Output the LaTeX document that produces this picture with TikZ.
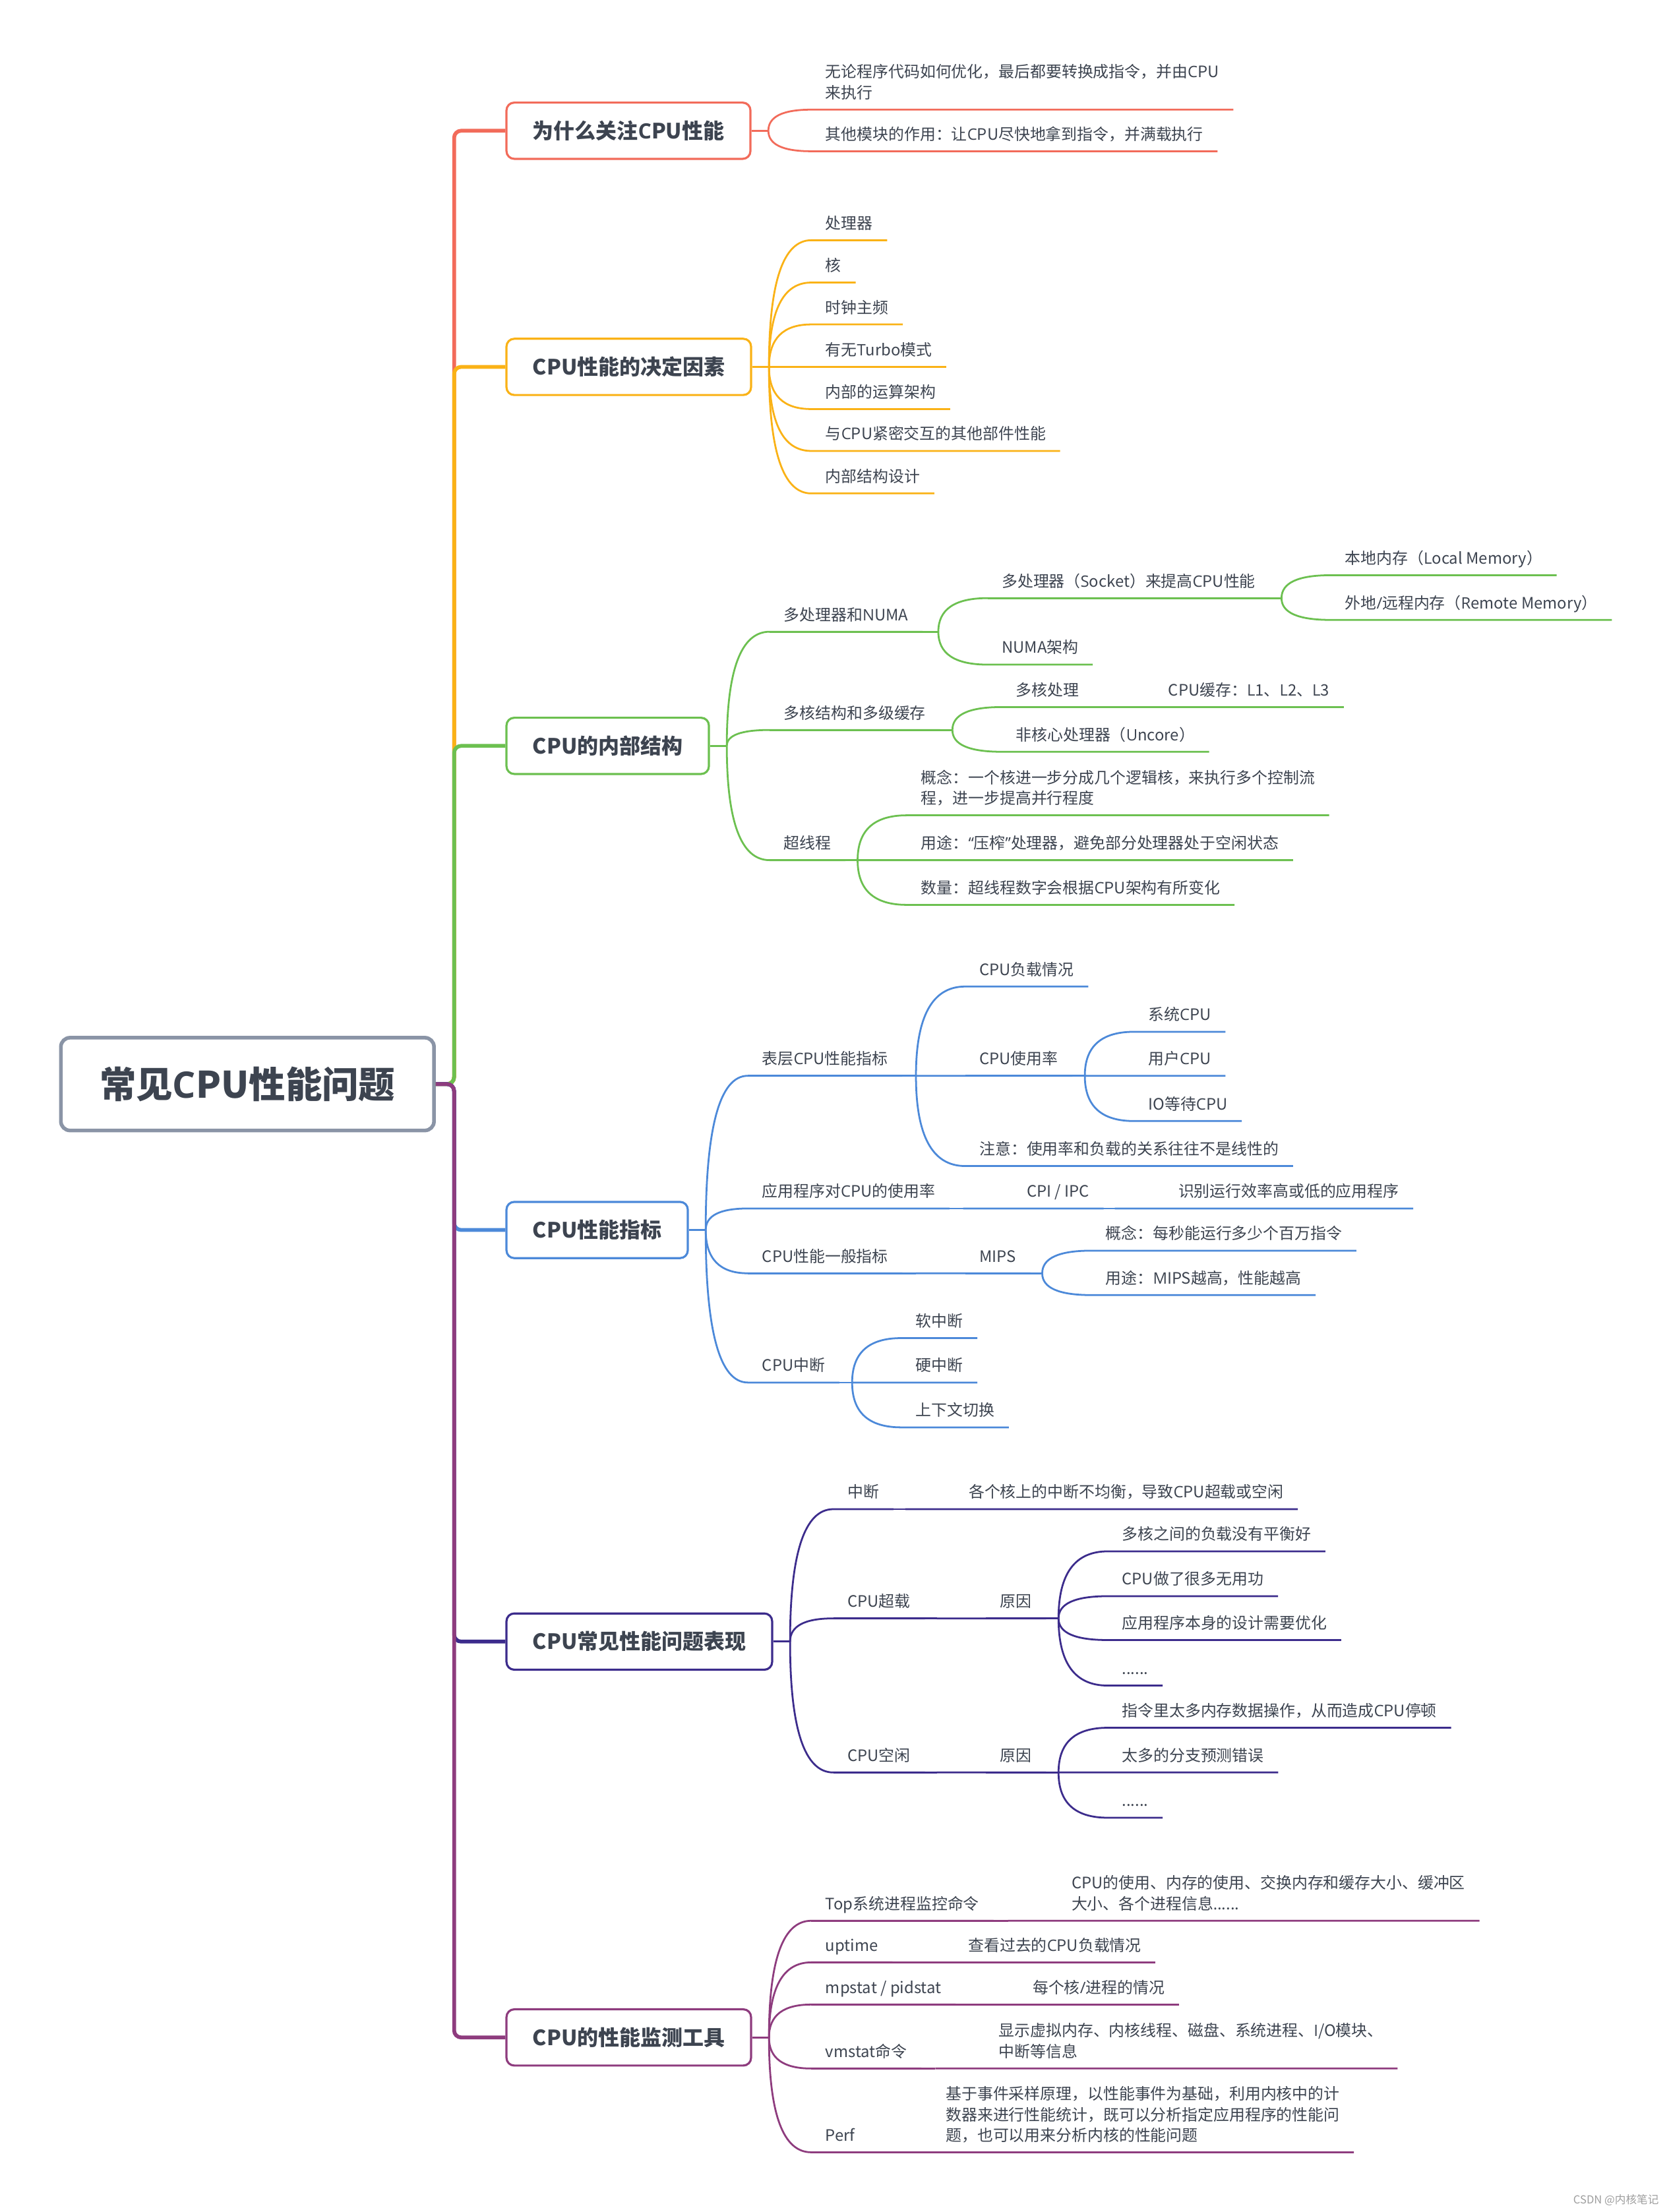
\documentclass[tikz,border=0pt]{standalone}
\usepackage{fontspec}
\setmainfont{Open Sans}
\newfontfamily\latinfont{Open Sans}
\newfontfamily\cjkfont{Noto Sans CJK SC}
\usetikzlibrary{positioning,calc}

\definecolor{ink}{RGB}{61,68,80}
\definecolor{rootgray}{RGB}{138,148,166}
\definecolor{cred}{RGB}{242,107,90}
\definecolor{corange}{RGB}{250,178,22}
\definecolor{cgreen}{RGB}{108,192,80}
\definecolor{cblue}{RGB}{76,137,217}
\definecolor{cpurple}{RGB}{60,44,140}
\definecolor{cplum}{RGB}{142,60,126}

% Latin letters in Open Sans, the rest in Noto Sans CJK
\newXeTeXintercharclass\latincls
\makeatletter
\def\setlatin#1#2{\count@=#1\relax
  \loop\XeTeXcharclass\count@=\latincls\relax
  \ifnum\count@<#2\relax\advance\count@\@ne\repeat}
\makeatother
\setlatin{`A}{`Z}\setlatin{`a}{`z}\setlatin{`0}{`9}
\XeTeXcharclass`/=\latincls
\XeTeXcharclass`@=\latincls
\XeTeXcharclass`.=\latincls
\XeTeXcharclass"201C=\latincls
\XeTeXcharclass"201D=\latincls
\XeTeXinterchartokenstate=1
\XeTeXinterchartoks 4095 \latincls = {\latinfont}
\XeTeXinterchartoks 0 \latincls = {\latinfont}
\XeTeXinterchartoks 1 \latincls = {\latinfont}
\XeTeXinterchartoks 2 \latincls = {\latinfont}
\XeTeXinterchartoks 3 \latincls = {\latinfont}
\XeTeXinterchartoks \latincls 0 = {\cjkfont}
\XeTeXinterchartoks \latincls 1 = {\cjkfont}
\XeTeXinterchartoks \latincls 2 = {\cjkfont}
\XeTeXinterchartoks \latincls 3 = {\cjkfont}
\XeTeXinterchartoks 4095 0 = {\cjkfont}
\XeTeXinterchartoks 4095 1 = {\cjkfont}
\XeTeXinterchartoks 4095 2 = {\cjkfont}
\XeTeXinterchartoks 4095 3 = {\cjkfont}

\begin{document}
\begin{tikzpicture}[x=1pt, y=-1pt,
    root/.style={draw=rootgray, line width=2.6pt, rounded corners=6.5pt, minimum width=265.4pt, minimum height=66pt, font=\fontsize{26}{30}\selectfont\bfseries, text=ink},
    topic/.style={draw=#1, line width=1.5pt, rounded corners=5.5pt, fill=white, anchor=west, inner xsep=18.6pt, minimum height=40pt, font=\fontsize{15}{18}\selectfont\bfseries, text=ink},
    leaf/.style={anchor=south west, inner xsep=10pt, inner ysep=3.4pt, align=left, font=\fontsize{11.2}{14.7}\selectfont, text=ink, execute at end node=\strut},
    trunk/.style={draw=#1, line width=2.7pt, rounded corners=5pt},
    bough/.style={draw=#1, line width=1.3pt},
    kid/.style={to path={.. controls ($(\tikztostart)!.667!(\tikztostart |- \tikztotarget)$) and ($(\tikztotarget)!.667!(\tikztostart |- \tikztotarget)$) .. (\tikztotarget)}}]
    \fill[white] (0,0) rectangle (1187.1,1573.6);

    % root and main topics
    \node[root] (cpu) at (176,771.2) {常见CPU性能问题};
    \coordinate (spine) at (323,771.2);
    \node[topic=cred] (why) at (359.5,93) {为什么关注CPU性能};
    \node[topic=corange] (fac) at (359.5,261) {CPU性能的决定因素};
    \node[topic=cgreen] (arch) at (359.5,530.6) {CPU的内部结构};
    \node[topic=cblue] (met) at (359.5,875) {CPU性能指标};
    \node[topic=cpurple] (sym) at (359.5,1167.8) {CPU常见性能问题表现};
    \node[topic=cplum] (tool) at (359.5,1449.4) {CPU的性能监测工具};
    \foreach \t/\c in {why/cred, fac/corange, arch/cgreen, met/cblue, sym/cpurple, tool/cplum}
        \draw[trunk=\c] (cpu.east) -- (spine) |- (\t.west);

    % why
    \node[leaf] (w1) at (577,78) {无论程序代码如何优化，最后都要转换成指令，并由CPU\\来执行};
    \node[leaf] (w2) at (577,107.6) {其他模块的作用：让CPU尽快地拿到指令，并满载执行};
    \coordinate (whyF) at ([xshift=12pt]why.east);
    \draw[bough=cred] (why.east) -- (whyF);
    \foreach \k in {w1,w2}
        \draw[bough=cred] (whyF) to[kid] (\k.south west) -- (\k.south east);

    % factors
    \node[leaf] (f1) at (577,170.9) {处理器};
    \node[leaf] (f2) at (577,201) {核};
    \node[leaf] (f3) at (577,230.8) {时钟主频};
    \node[leaf] (f4) at (577,261) {有无Turbo模式};
    \node[leaf] (f5) at (577,291) {内部的运算架构};
    \node[leaf] (f6) at (577,320.8) {与CPU紧密交互的其他部件性能};
    \node[leaf] (f7) at (577,351) {内部结构设计};
    \coordinate (facF) at ([xshift=12pt]fac.east);
    \draw[bough=corange] (fac.east) -- (facF);
    \foreach \k in {f1,f2,f3,f4,f5,f6,f7}
        \draw[bough=corange] (facF) to[kid] (\k.south west) -- (\k.south east);

    % inner structure
    \node[leaf] (a1) at (547.4,449.4) {多处理器和NUMA};
    \node[leaf] (a11) at (702.4,425.5) {多处理器（Socket）来提高CPU性能};
    \node[leaf] (a111) at (946.5,409.2) {本地内存（Local Memory）};
    \node[leaf] (a112) at (946.5,441) {外地/远程内存（Remote Memory）};
    \node[leaf] (a12) at (702.4,472.8) {NUMA架构};
    \node[leaf] (a2) at (547.4,519.3) {多核结构和多级缓存};
    \node[leaf] (a21) at (712.4,503) {多核处理};
    \node[leaf] (a211) at (820.9,503) {CPU缓存：L1、L2、L3};
    \node[leaf] (a22) at (712.4,534.8) {非核心处理器（Uncore）};
    \node[leaf] (a3) at (547.4,611.9) {超线程};
    \node[leaf] (a31) at (645,580) {概念：一个核进一步分成几个逻辑核，来执行多个控制流\\程，进一步提高并行程度};
    \node[leaf] (a32) at (645,611.9) {用途：“压榨”处理器，避免部分处理器处于空闲状态};
    \node[leaf] (a33) at (645,643.7) {数量：超线程数字会根据CPU架构有所变化};
    \coordinate (archF) at ([xshift=12pt]arch.east);
    \coordinate (a1F) at (667.4,449.4);
    \coordinate (a11F) at (911.5,425.5);
    \coordinate (a2F) at (677.4,519.3);
    \coordinate (a21F) at (785.9,503);
    \coordinate (a3F) at (610,611.9);
    \draw[bough=cgreen] (arch.east) -- (archF);
    \foreach \k/\f in {a1/a1F, a11/a11F, a2/a2F, a21/a21F, a3/a3F}
        \draw[bough=cgreen] (\k.south west) -- (\f);
    \foreach \p/\k in {archF/a1, archF/a2, archF/a3, a1F/a11, a1F/a12, a11F/a111, a11F/a112,
                       a2F/a21, a2F/a22, a21F/a211, a3F/a31, a3F/a32, a3F/a33}
        \draw[bough=cgreen] (\p) to[kid] (\k.south west) -- (\k.south east);

    % metrics
    \node[leaf] (m1) at (531.9,765.3) {表层CPU性能指标};
    \node[leaf] (m11) at (686.5,701.8) {CPU负载情况};
    \node[leaf] (m12) at (686.5,765.3) {CPU使用率};
    \node[leaf] (m121) at (806.6,734) {系统CPU};
    \node[leaf] (m122) at (806.6,765.3) {用户CPU};
    \node[leaf] (m123) at (806.6,797.5) {IO等待CPU};
    \node[leaf] (m13) at (686.5,829.5) {注意：使用率和负载的关系往往不是线性的};
    \node[leaf] (m2) at (531.9,859.7) {应用程序对CPU的使用率};
    \node[leaf] (m21) at (720.1,859.7) {CPI / IPC};
    \node[leaf] (m211) at (828,859.7) {识别运行效率高或低的应用程序};
    \node[leaf] (m3) at (531.9,905.8) {CPU性能一般指标};
    \node[leaf] (m31) at (686.5,905.8) {MIPS};
    \node[leaf] (m311) at (776.3,889.7) {概念：每秒能运行多少个百万指令};
    \node[leaf] (m312) at (776.3,921.3) {用途：MIPS越高，性能越高};
    \node[leaf] (m4) at (531.9,983.5) {CPU中断};
    \node[leaf] (m41) at (641.1,951.9) {软中断};
    \node[leaf] (m42) at (641.1,983.5) {硬中断};
    \node[leaf] (m43) at (641.1,1015.4) {上下文切换};
    \coordinate (metF) at ([xshift=12pt]met.east);
    \coordinate (m1F) at (651.5,765.3);
    \coordinate (m12F) at (771.6,765.3);
    \coordinate (m2F) at (685.1,859.7);
    \coordinate (m21F) at (793,859.7);
    \coordinate (m3F) at (651.5,905.8);
    \coordinate (m31F) at (741.3,905.8);
    \coordinate (m4F) at (606.1,983.5);
    \draw[bough=cblue] (met.east) -- (metF);
    \foreach \k/\f in {m1/m1F, m12/m12F, m2/m2F, m21/m21F, m3/m3F, m31/m31F, m4/m4F}
        \draw[bough=cblue] (\k.south west) -- (\f);
    \foreach \p/\k in {metF/m1, metF/m2, metF/m3, metF/m4, m1F/m11, m1F/m12, m1F/m13,
                       m12F/m121, m12F/m122, m12F/m123, m2F/m21, m21F/m211, m3F/m31,
                       m31F/m311, m31F/m312, m4F/m41, m4F/m42, m4F/m43}
        \draw[bough=cblue] (\p) to[kid] (\k.south west) -- (\k.south east);

    % symptoms
    \node[leaf] (s1) at (592.7,1073.6) {中断};
    \node[leaf] (s11) at (678.9,1073.6) {各个核上的中断不均衡，导致CPU超载或空闲};
    \node[leaf] (s2) at (592.7,1151.3) {CPU超载};
    \node[leaf] (s21) at (701.3,1151.3) {原因};
    \node[leaf] (s211) at (787.9,1103.6) {多核之间的负载没有平衡好};
    \node[leaf] (s212) at (787.9,1135.5) {CPU做了很多无用功};
    \node[leaf] (s213) at (787.9,1166.7) {应用程序本身的设计需要优化};
    \node[leaf] (s214) at (787.9,1199.1) {......};
    \node[leaf] (s3) at (592.7,1260.9) {CPU空闲};
    \node[leaf] (s31) at (701.3,1260.9) {原因};
    \node[leaf] (s311) at (787.9,1229.1) {指令里太多内存数据操作，从而造成CPU停顿};
    \node[leaf] (s312) at (787.9,1260.9) {太多的分支预测错误};
    \node[leaf] (s313) at (787.9,1293.1) {......};
    \coordinate (symF) at ([xshift=12pt]sym.east);
    \coordinate (s1F) at (643.9,1073.6);
    \coordinate (s2F) at (666.3,1151.3);
    \coordinate (s21F) at (752.9,1151.3);
    \coordinate (s3F) at (666.3,1260.9);
    \coordinate (s31F) at (752.9,1260.9);
    \draw[bough=cpurple] (sym.east) -- (symF);
    \foreach \k/\f in {s1/s1F, s2/s2F, s21/s21F, s3/s3F, s31/s31F}
        \draw[bough=cpurple] (\k.south west) -- (\f);
    \foreach \p/\k in {symF/s1, symF/s2, symF/s3, s1F/s11, s2F/s21, s21F/s211, s21F/s212,
                       s21F/s213, s21F/s214, s3F/s31, s31F/s311, s31F/s312, s31F/s313}
        \draw[bough=cpurple] (\p) to[kid] (\k.south west) -- (\k.south east);

    % tools
    \node[leaf] (t1) at (577,1366.4) {Top系统进程监控命令};
    \node[leaf] (t11) at (752,1366.4) {CPU的使用、内存的使用、交换内存和缓存大小、缓冲区\\大小、各个进程信息......};
    \node[leaf] (t2) at (577,1396) {uptime};
    \node[leaf] (t21) at (678.5,1396) {查看过去的CPU负载情况};
    \node[leaf] (t3) at (577,1426) {mpstat / pidstat};
    \node[leaf] (t31) at (724.4,1426) {每个核/进程的情况};
    \node[leaf] (t4) at (577,1471.5) {vmstat命令};
    \node[leaf] (t41) at (700.3,1471.5) {显示虚拟内存、内核线程、磁盘、系统进程、I/O模块、\\中断等信息};
    \node[leaf] (t5) at (577,1531.1) {Perf};
    \node[leaf] (t51) at (662.6,1531.1) {基于事件采样原理，以性能事件为基础，利用内核中的计\\数器来进行性能统计，既可以分析指定应用程序的性能问\\题，也可以用来分析内核的性能问题};
    \coordinate (toolF) at ([xshift=12pt]tool.east);
    \coordinate (t1F) at (717,1366.4);
    \coordinate (t2F) at (643.5,1396);
    \coordinate (t3F) at (689.4,1426);
    \coordinate (t4F) at (665.3,1471.5);
    \coordinate (t5F) at (627.6,1531.1);
    \draw[bough=cplum] (tool.east) -- (toolF);
    \foreach \k/\f in {t1/t1F, t2/t2F, t3/t3F, t4/t4F, t5/t5F}
        \draw[bough=cplum] (\k.south west) -- (\f);
    \foreach \p/\k in {toolF/t1, toolF/t2, toolF/t3, toolF/t4, toolF/t5, t1F/t11, t2F/t21,
                       t3F/t31, t4F/t41, t5F/t51}
        \draw[bough=cplum] (\p) to[kid] (\k.south west) -- (\k.south east);

    \node[anchor=east, inner sep=0pt, font=\fontsize{7.8}{9}\selectfont, text=black!38] (mark) at (1180,1565) {CSDN @内核笔记};
\end{tikzpicture}
\end{document}
